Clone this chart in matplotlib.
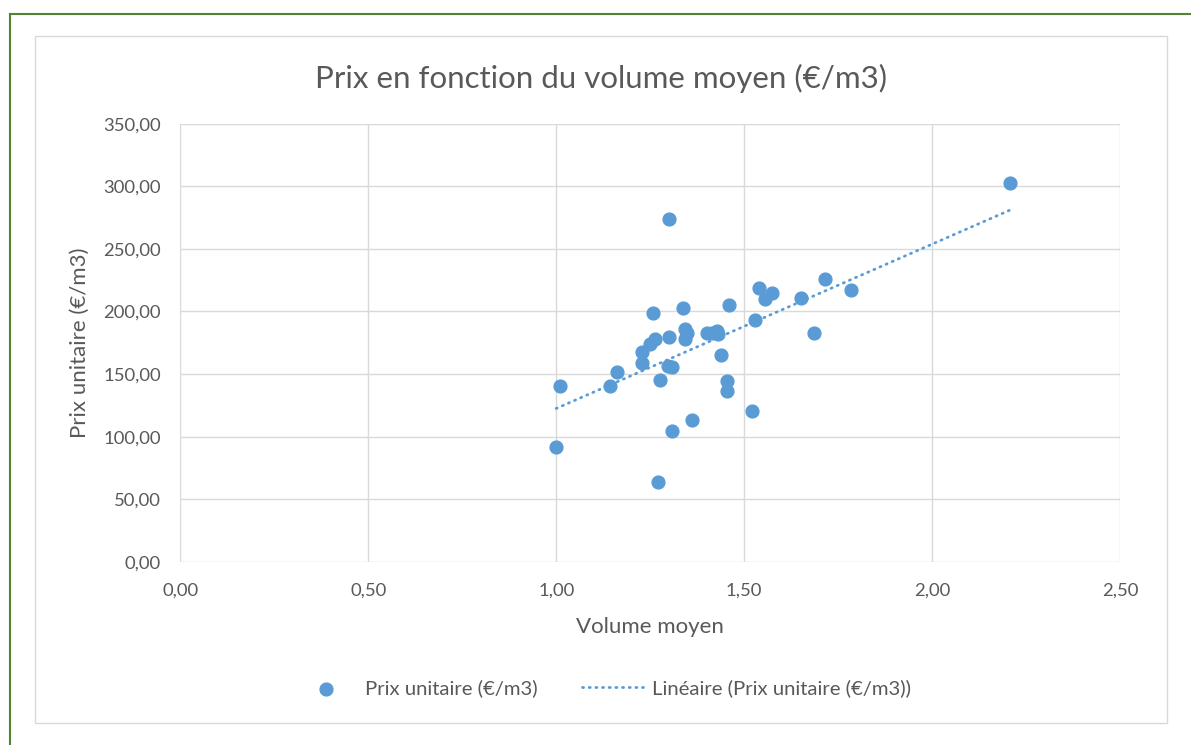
import numpy as np
import matplotlib.pyplot as plt
from matplotlib.patches import Rectangle
from matplotlib.lines import Line2D

# données
volume = [1.00, 1.01, 1.143, 1.163, 1.228, 1.228, 1.249, 1.263, 1.258, 1.270,
          1.275, 1.300, 1.300, 1.298, 1.309, 1.309, 1.337, 1.342, 1.342, 1.349,
          1.362, 1.402, 1.415, 1.428, 1.431, 1.438, 1.459, 1.455, 1.455, 1.521,
          1.530, 1.539, 1.555, 1.573, 1.652, 1.714, 1.685, 1.785, 2.208]
prix = [92.0, 140.5, 140.5, 151.7, 167.7, 159.1, 174.0, 177.8, 198.6, 63.6,
        145.3, 274.0, 179.4, 156.5, 156.0, 104.3, 202.5, 186.0, 177.8, 182.6,
        113.3, 182.6, 183.0, 184.7, 181.8, 165.3, 205.0, 144.7, 136.5, 120.8,
        193.5, 218.5, 209.7, 214.8, 211.0, 225.7, 182.6, 217.2, 302.7]

xticks = [0, 0.5, 1.0, 1.5, 2.0, 2.5]
yticks = [0, 50, 100, 150, 200, 250, 300, 350]

bleu = '#5b9bd5'
gris = '#595959'
plt.rcParams['font.family'] = ['Lato', 'DejaVu Sans']

fig = plt.figure(figsize=(11.91, 7.45), dpi=100)
ax = fig.add_axes([0.1514, 0.2458, 0.7890, 0.5882])

# bordures (cadre vert + cadre du graphique)
fig.add_artist(Line2D([10/1191, 10/1191], [0, 1 - 14/745], color='#548235', lw=1.5))
fig.add_artist(Line2D([10/1191, 1], [1 - 14/745, 1 - 14/745], color='#548235', lw=1.5))
fig.add_artist(Rectangle((35/1191, 1 - 723/745), 1132/1191, 687/745,
                         fill=False, edgecolor='#d9d9d9', lw=1))

ax.scatter(volume, prix, s=85, color=bleu, zorder=3, label='Prix unitaire (€/m3)')

# courbe de tendance linéaire
a, b = np.polyfit(volume, prix, 1)
xt = np.array([min(volume), max(volume)])
ax.plot(xt, a * xt + b, color=bleu, lw=2.0, linestyle=(0, (0.4, 2.0)),
        dash_capstyle='round', zorder=2, label='Linéaire (Prix unitaire (€/m3))')

ax.set_xlim(0, 2.5)
ax.set_ylim(0, 350)
ax.set_xticks(xticks)
ax.set_yticks(yticks)
ax.set_xticklabels([f'{v:.2f}'.replace('.', ',') for v in xticks])
ax.set_yticklabels([f'{v:.2f}'.replace('.', ',') for v in yticks])
ax.tick_params(length=0, colors=gris, labelsize=13.3)
ax.tick_params(axis='x', pad=15)
ax.tick_params(axis='y', pad=14)
ax.grid(True, color='#d9d9d9', lw=1)
ax.set_axisbelow(True)
for s in ax.spines.values():
    s.set_visible(False)

ax.set_xlabel('Volume moyen', color=gris, fontsize=16, va='center')
ax.set_ylabel('Prix unitaire (€/m3)', color=gris, fontsize=16, va='center')
ax.xaxis.set_label_coords(0.5, -0.1486)
ax.yaxis.set_label_coords(-0.1067, 0.5)

fig.text(601/1191, 1 - 78/745, 'Prix en fonction du volume moyen (€/m3)', color=gris,
         fontsize=22.5, ha='center', va='center')

fig.legend(loc='center', bbox_to_anchor=(603/1191, 1 - 688/745), ncol=2, frameon=False,
           fontsize=14.6, labelcolor=gris, handlelength=3.0, handletextpad=0.44,
           columnspacing=2.2)

plt.savefig('out.png', dpi=100)
